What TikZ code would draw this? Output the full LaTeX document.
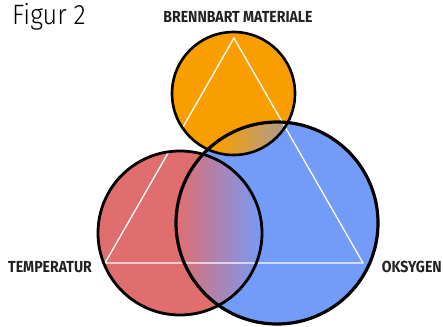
\documentclass[tikz,border=0pt]{standalone}
\usepackage{fontspec}
\setmainfont{Fira Sans}
\newfontfamily\titlefont[FakeStretch=0.9]{Fira Sans Light}
\newfontfamily\capfont[FakeStretch=0.88]{Fira Sans}
\usetikzlibrary{positioning}
\definecolor{fireOrange}{HTML}{FA9E00}
\definecolor{fireRed}{HTML}{E06E6E}
\definecolor{fireBlue}{HTML}{739BF8}
\definecolor{fireMix}{HTML}{A89C9A}
\definecolor{fireInk}{HTML}{222222}

\begin{document}
\begin{tikzpicture}[x=1pt,y=-1pt,line cap=round,line join=round]
\path[fill=white] (0,0) rectangle (443,326);
\tikzset{ring/.style={draw=black,line width=2.8pt},fieldlabel/.style={inner sep=0pt,text=fireInk,font=\capfont\bfseries\fontsize{16}{16}\selectfont}}
% centres of the three circles
\coordinate (fuelC) at (233.5,93.5); \coordinate (heatC) at (180,233); \coordinate (airC) at (277,223);
\fill[fireRed] (heatC) circle (82); \fill[fireBlue] (airC) circle (101); \fill[fireOrange] (fuelC) circle (61.5);
% blended overlaps
\begin{scope} \clip (heatC) circle (82); \clip (airC) circle (101);
\shade[left color=fireRed,right color=fireBlue] (176,120) rectangle (263,320); \end{scope}
\begin{scope} \clip (fuelC) circle (61.5); \clip (airC) circle (101);
\shade[left color=fireOrange,right color=fireMix] (215,120) rectangle (290,158); \end{scope}
% fire triangle
\draw[white,line width=1.3pt] (234,38) -- (105,263) -- (363,263) -- cycle;
\draw[ring] (heatC) circle (82); \draw[ring,line width=3.2pt] (airC) circle (101); \draw[ring,line width=2.6pt] (fuelC) circle (61.5);
\node[anchor=base west,inner sep=0pt,font=\titlefont\fontsize{28}{28}\selectfont] (figtitle) at (12,25) {Figur 2};
\node[fieldlabel,anchor=base] (fuel) at (238,23) {BRENNBART MATERIALE};
\node[fieldlabel,anchor=base west] (heat) at (8,272) {TEMPERATUR};
\node[fieldlabel,anchor=base east] (air) at (442,272) {OKSYGEN};
\end{tikzpicture}
\end{document}
